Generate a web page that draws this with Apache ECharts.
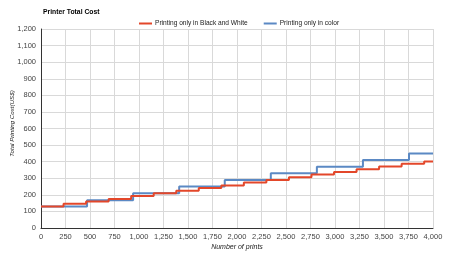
<!DOCTYPE html>
<html><head><meta charset="utf-8">
<script src="https://cdn.jsdelivr.net/npm/echarts@6/dist/echarts.min.js"></script>
<style>html,body{margin:0;padding:0;background:#fff}#c{width:450px;height:260px}</style>
</head><body><div id="c"></div>
<script>
const seriesNames = ['Printing only in Black and White', 'Printing only in color'];
const bwPrints = [0, 230, 460, 690, 920, 1150, 1380, 1610, 1840, 2070, 2300, 2530, 2760, 2990, 3220, 3450, 3680, 3910, 4000];
const bwCost   = [130, 146, 160, 175, 193, 209, 225, 241, 257, 274, 290, 306, 322, 338, 355, 371, 387, 401, 401];
const colorPrints = [0, 470, 940, 1410, 1875, 2345, 2815, 3285, 3755, 4000];
const colorCost   = [130, 168, 210, 250, 290, 330, 370, 410, 450, 450];
const fmt = v => v.toLocaleString('en-US');
const pairs = (xs, ys) => xs.map((x, i) => [x, ys[i]]);
const chart = echarts.init(document.getElementById('c'), null, {renderer: 'canvas'});
const F = 'Liberation Sans, Arial, sans-serif';
chart.setOption({
  animation: false,
  title: {text: 'Printer Total Cost', left: 38, top: 4,
    textStyle: {fontFamily: F, fontSize: 6.8, fontWeight: 'bold', color: '#000'}},
  legend: {top: 15, left: 134, itemWidth: 13, itemHeight: 2, itemGap: 16,
    icon: 'rect',
    textStyle: {fontFamily: F, fontSize: 6.6, color: '#222', padding: [0, 0, 0, -2]},
    data: seriesNames},
  grid: {left: 41, right: 17, top: 29, bottom: 32, outerBoundsMode: 'none', containLabel: false},
  xAxis: {type: 'value', min: 0, max: 4000, interval: 250,
    name: 'Number of prints', nameLocation: 'middle', nameGap: 16, nameMoveOverlap: false,
    nameTextStyle: {fontFamily: F, fontSize: 7, fontStyle: 'italic', color: '#222'},
    axisLine: {lineStyle: {color: '#333'}}, axisTick: {show: false},
    axisLabel: {fontFamily: F, fontSize: 7.5, color: '#444', margin: 5, formatter: fmt},
    splitLine: {show: true, lineStyle: {color: '#d9d9d9'}}},
  yAxis: {type: 'value', min: 0, max: 1200, interval: 100,
    name: 'Total Printing Cost(US$)', nameLocation: 'middle', nameGap: 26, nameMoveOverlap: false,
    nameTextStyle: {fontFamily: F, fontSize: 6.2, fontStyle: 'italic', color: '#222', padding: [0, 0, 0, 10]},
    axisLine: {show: true, lineStyle: {color: '#333'}}, axisTick: {show: false},
    axisLabel: {fontFamily: F, fontSize: 7.5, color: '#444', margin: 5, formatter: fmt},
    splitLine: {show: true, lineStyle: {color: '#d9d9d9'}}},
  series: [
    {name: seriesNames[0], type: 'line', step: 'end', showSymbol: false, z: 3,
      data: pairs(bwPrints, bwCost), itemStyle: {color: '#e3472a'}, lineStyle: {width: 2, color: '#e3472a'}},
    {name: seriesNames[1], type: 'line', step: 'end', showSymbol: false, z: 2,
      data: pairs(colorPrints, colorCost), itemStyle: {color: '#5b89c4'}, lineStyle: {width: 2, color: '#5b89c4'}}
  ]
});
</script></body></html>
